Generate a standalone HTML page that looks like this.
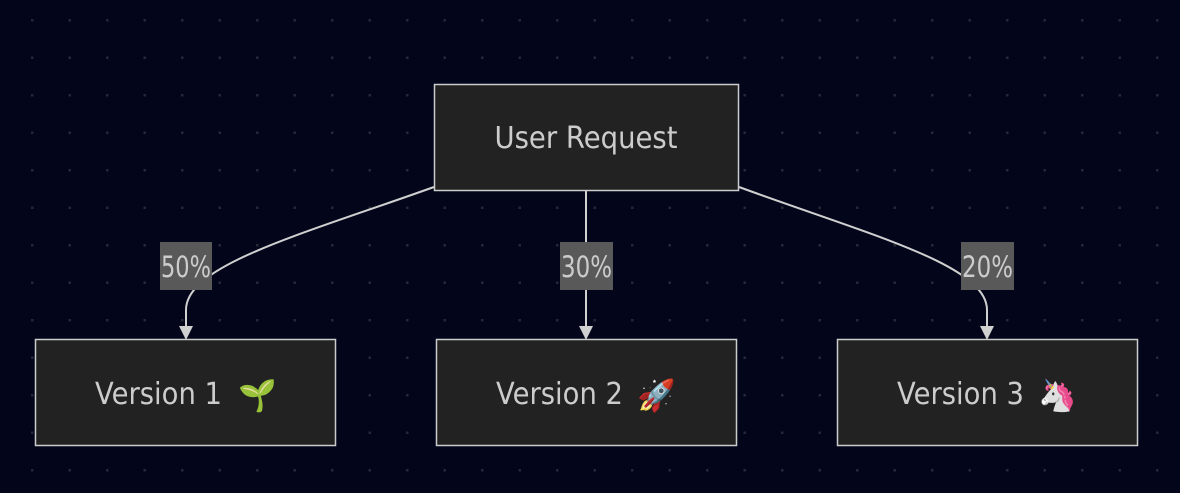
<!DOCTYPE html>
<html><head><meta charset="utf-8"><style>
html,body{margin:0;padding:0;background:#03061a;}
svg{display:block}
text{font-family:"DejaVu Sans","Liberation Sans",sans-serif;fill:#cccccc;}
</style></head><body>
<svg width="1180" height="493" viewBox="0 0 1180 493" xmlns="http://www.w3.org/2000/svg">
<defs>
<pattern id="dots" x="31" y="19" width="37.5" height="37.5" patternUnits="userSpaceOnUse">
<rect x="0" y="0" width="2.5" height="2.5" fill="#252837"/>
</pattern>
<marker id="ah" markerWidth="14" markerHeight="14" refX="12" refY="7" orient="auto" markerUnits="userSpaceOnUse">
<path d="M0,0 L14,7 L0,14 z" fill="#d0d0d0"/>
</marker>
</defs>
<rect width="1180" height="493" fill="#03061a"/>
<rect width="1180" height="493" fill="url(#dots)"/>

<path d="M434,187 C300,235 186,265 186,310 L186,338" fill="none" stroke="#d0d0d0" stroke-width="2" marker-end="url(#ah)"/>
<path d="M586,191 L586,338" fill="none" stroke="#d0d0d0" stroke-width="2" marker-end="url(#ah)"/>
<path d="M739,187 C870,235 987,265 987,310 L987,338" fill="none" stroke="#d0d0d0" stroke-width="2" marker-end="url(#ah)"/>

<rect x="434.5" y="84.5" width="304" height="106" fill="#212221" stroke="#cccccc" stroke-width="1.5"/>
<text x="586" y="148" text-anchor="middle" font-size="30" textLength="183" lengthAdjust="spacingAndGlyphs">User Request</text>

<rect x="160" y="242" width="52" height="48" fill="#595959"/>
<text x="186" y="277" text-anchor="middle" font-size="29" textLength="50" lengthAdjust="spacingAndGlyphs">50%</text>
<rect x="560" y="242" width="53" height="48" fill="#595959"/>
<text x="586.5" y="277" text-anchor="middle" font-size="29" textLength="51" lengthAdjust="spacingAndGlyphs">30%</text>
<rect x="961" y="242" width="53" height="48" fill="#595959"/>
<text x="987.5" y="277" text-anchor="middle" font-size="29" textLength="51" lengthAdjust="spacingAndGlyphs">20%</text>

<rect x="35.5" y="339.5" width="300" height="106" fill="#212221" stroke="#cccccc" stroke-width="1.5"/>
<text x="95" y="404" font-size="30" textLength="127" lengthAdjust="spacingAndGlyphs">Version 1</text>
<text x="238" y="406" font-size="31">🌱</text>
<rect x="436.5" y="339.5" width="300" height="106" fill="#212221" stroke="#cccccc" stroke-width="1.5"/>
<text x="496" y="404" font-size="30" textLength="127" lengthAdjust="spacingAndGlyphs">Version 2</text>
<text x="637" y="406" font-size="31">🚀</text>
<rect x="837.5" y="339.5" width="300" height="106" fill="#212221" stroke="#cccccc" stroke-width="1.5"/>
<text x="897" y="404" font-size="30" textLength="127" lengthAdjust="spacingAndGlyphs">Version 3</text>
<text x="1038" y="406" font-size="31">🦄</text>
</svg>
</body></html>
